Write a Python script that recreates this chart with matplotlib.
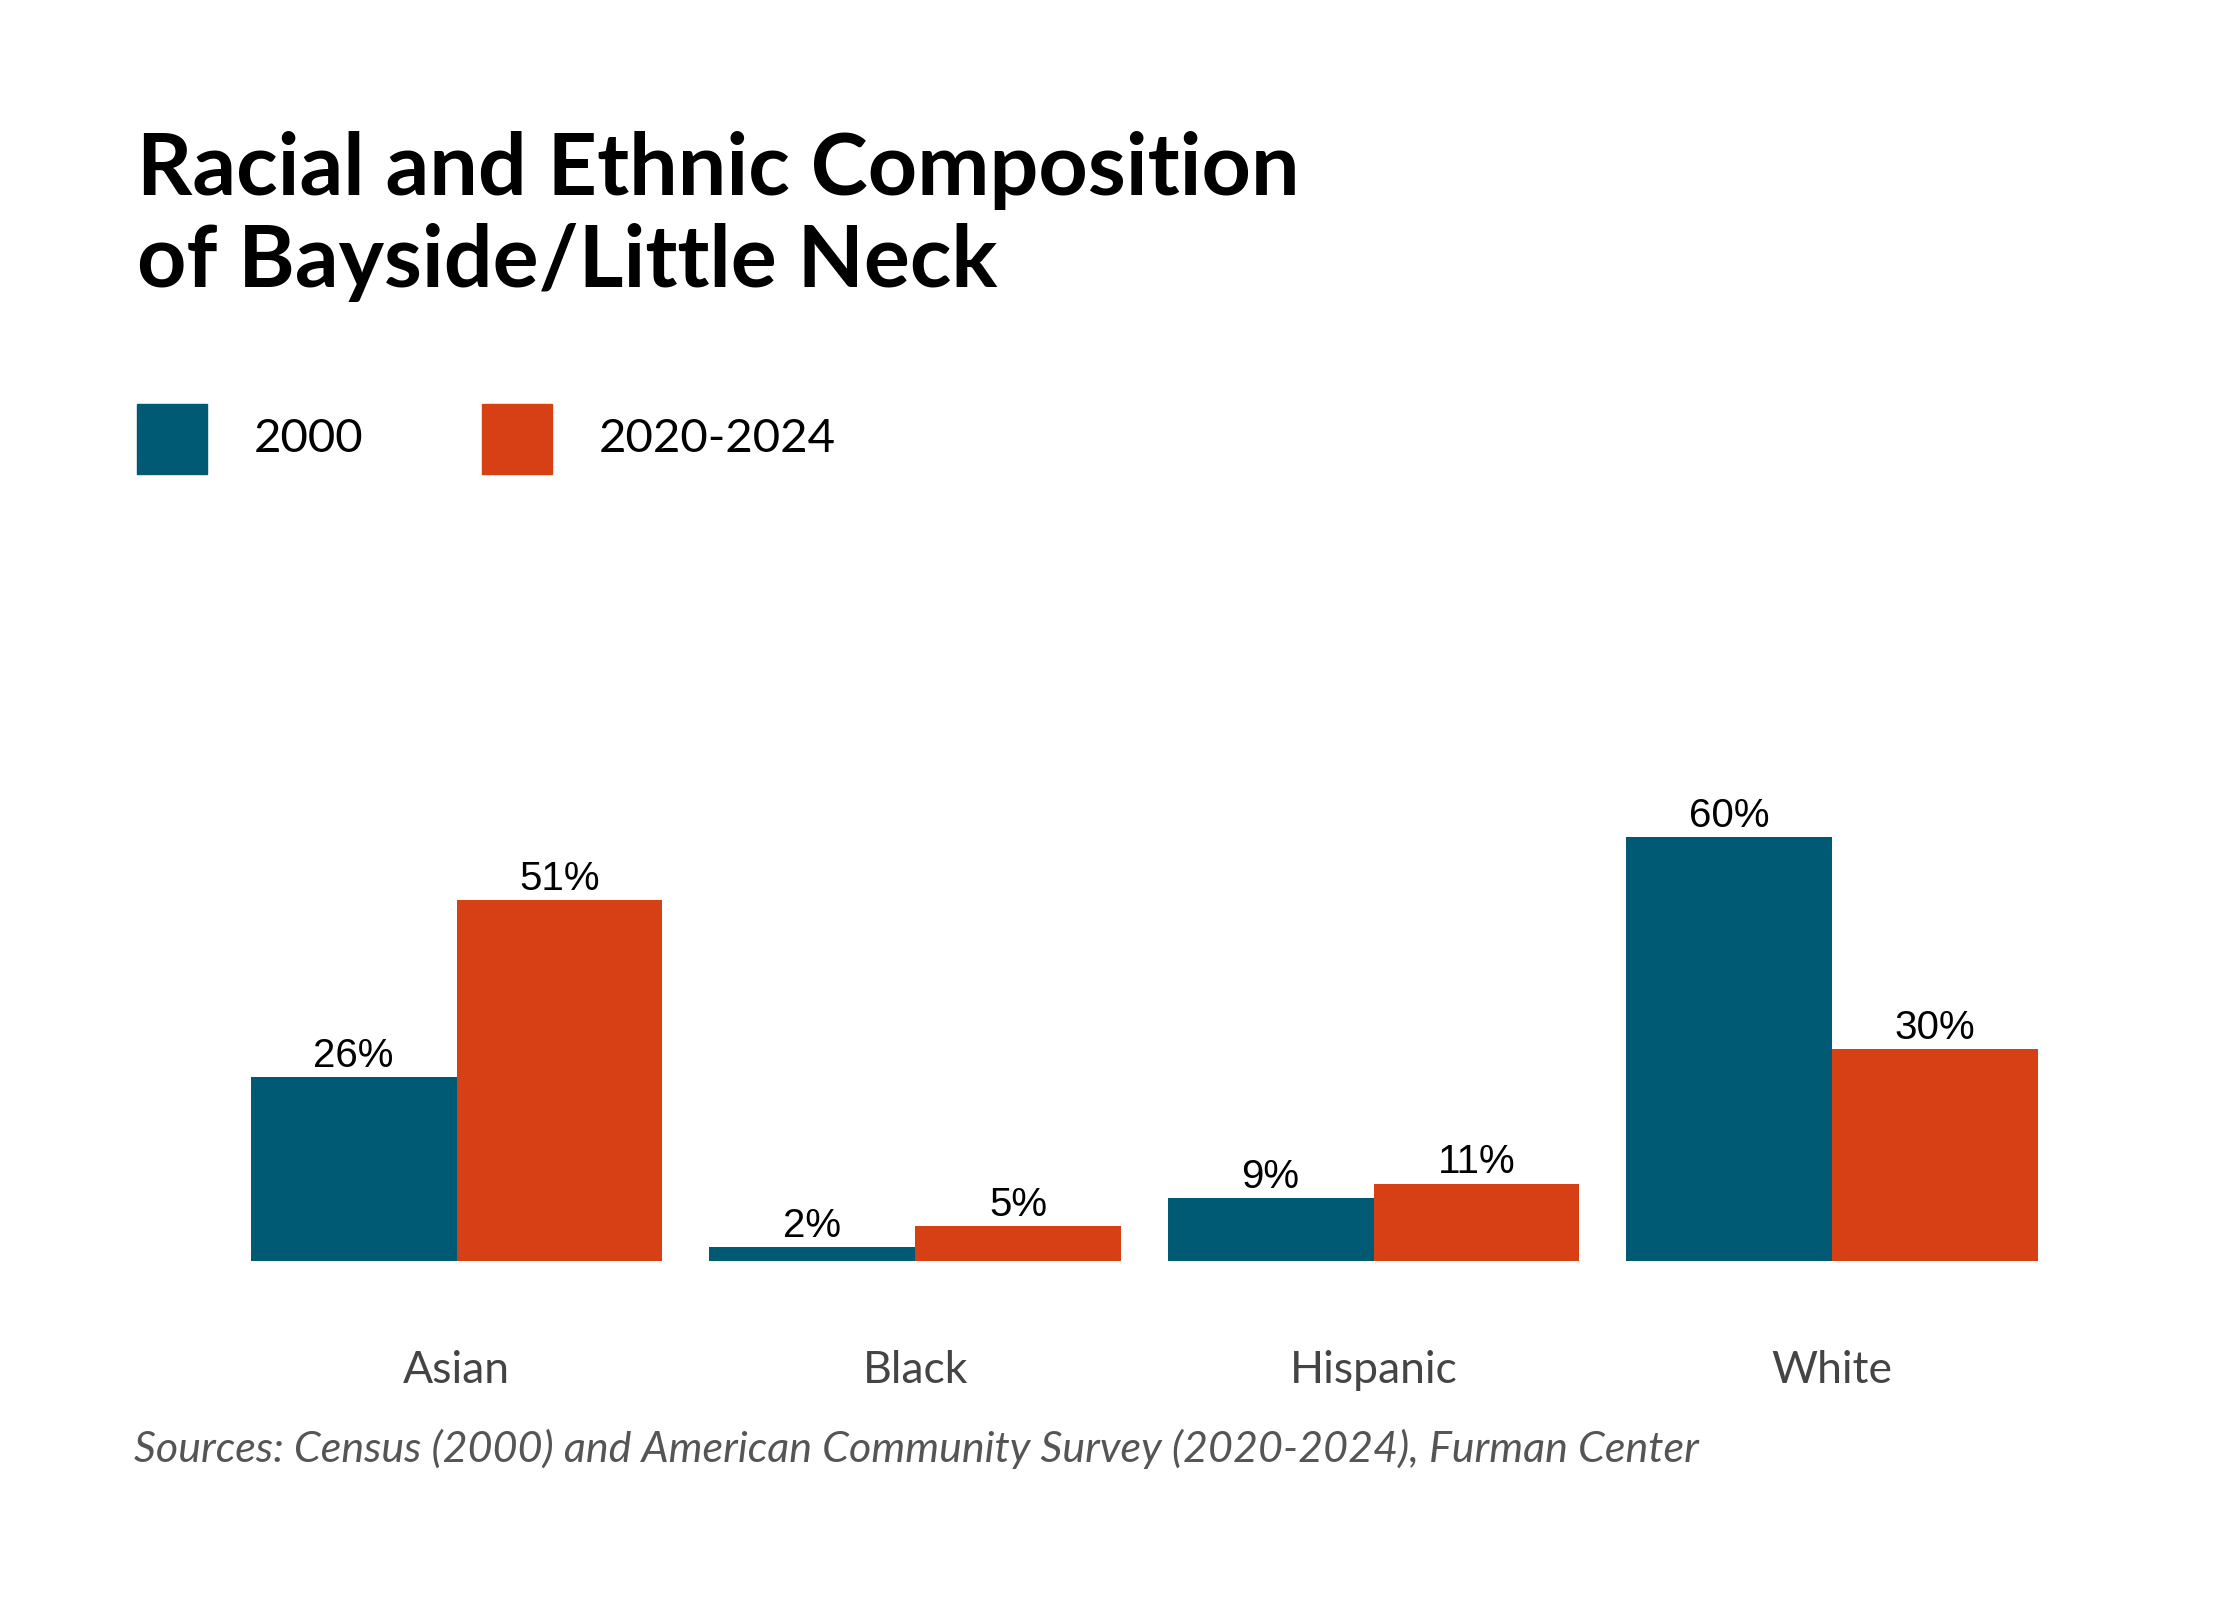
import numpy as np
import matplotlib.pyplot as plt
from matplotlib.patches import Rectangle

categories = ["Asian", "Black", "Hispanic", "White"]
vals_2000 = [26, 2, 9, 60]
vals_2024 = [51, 5, 11, 30]
series_names = ["2000", "2020-2024"]
colors = ["#005a74", "#d64014"]

plt.rcParams['font.family'] = ['Lato', 'DejaVu Sans']

fig = plt.figure(figsize=(22.4, 16), dpi=100)
ax = fig.add_axes([0.1015, 0.2116, 0.8187, 0.296])
x = np.arange(len(categories))
w = 0.449
b1 = ax.bar(x - w/2, vals_2000, w, color=colors[0])
b2 = ax.bar(x + w/2, vals_2024, w, color=colors[1])
for bars, vals in ((b1, vals_2000), (b2, vals_2024)):
    for r, v in zip(bars, vals):
        ax.text(r.get_x() + r.get_width()/2, v + 0.3, f"{v}%", ha='center', va='bottom',
                fontsize=29, family='Liberation Sans', color='black')
ax.set_xlim(-0.5, 3.5)
ax.set_ylim(0, 60 * 0.3 * 1100 / 296)
ax.set_xticks(x)
ax.set_xticklabels(categories, fontsize=32, color='#444444')
ax.tick_params(length=0, pad=64)
ax.set_yticks([])
for s in ax.spines.values():
    s.set_visible(False)

fig.text(0.061, 0.918, "Racial and Ethnic Composition\nof Bayside/Little Neck", fontsize=62,
         fontweight='bold', va='top', linespacing=1.2)

# legend
for i, (name, c) in enumerate(zip(series_names, colors)):
    x0 = [0.061, 0.215][i]
    fig.patches.append(Rectangle((x0, 0.7035), 0.0315, 0.044, transform=fig.transFigure,
                                 color=c))
    fig.text(x0 + 0.0525, 0.7255, name, fontsize=34, va='center')

fig.text(0.06, 0.0945, "Sources: Census (2000) and American Community Survey (2020-2024), Furman Center",
         fontsize=31, style='italic', color='#555555', va='center')

fig.savefig("out.png", dpi=100, facecolor='white')
